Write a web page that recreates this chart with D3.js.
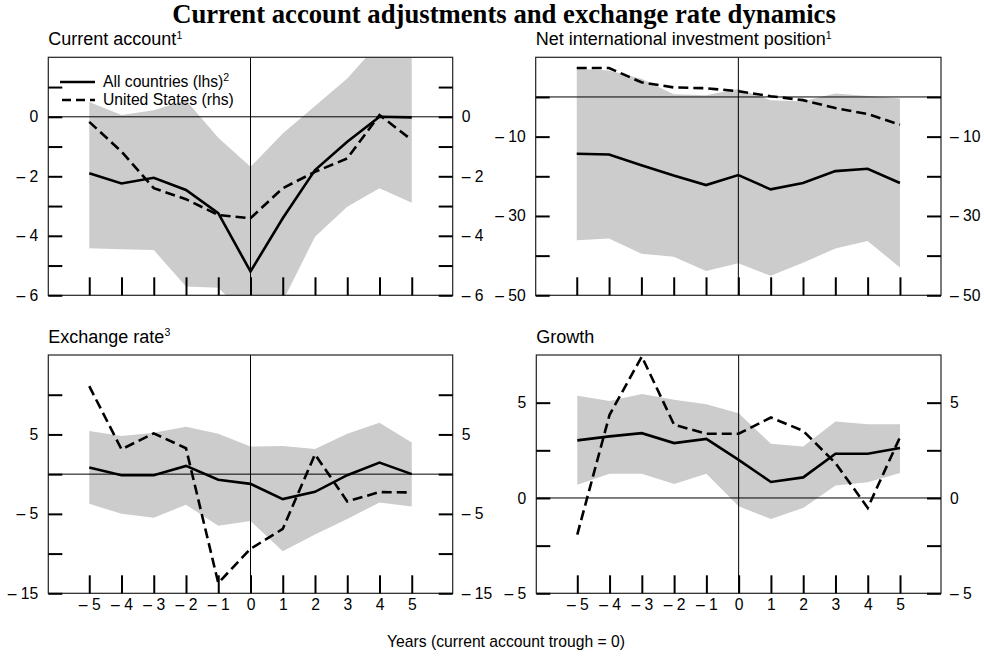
<!DOCTYPE html>
<html>
<head>
<meta charset="utf-8">
<script src="https://cdn.jsdelivr.net/npm/d3@7"></script>
<style>
  html, body { margin: 0; padding: 0; background: #fff; }
  svg { display: block; font-family: "Liberation Sans", Arial, sans-serif; }
</style>
</head>
<body>
<svg id="chart" width="984" height="657"></svg>
<script>
// Years relative to the current account trough
const years = [-5, -4, -3, -2, -1, 0, 1, 2, 3, 4, 5];

// Current account (% of GDP)
const caLow  = [-4.42, -4.45, -4.48, -5.7, -5.75, -6.8, -6.2, -4.03, -3.02, -2.4, -2.89];
const caHigh = [0.5, 0.06, 0.22, 0.56, -0.7, -1.68, -0.56, 0.36, 1.29, 2.5, 2.5];
const caAll  = [-1.9, -2.24, -2.05, -2.46, -3.24, -5.2, -3.41, -1.79, -0.84, 0.0, -0.02];
const caUS   = [-0.17, -1.17, -2.4, -2.77, -3.3, -3.41, -2.4, -1.85, -1.4, 0.06, -0.78];

// Net international investment position (% of GDP)
const niipLow  = [-36.1, -35.7, -39.5, -40.3, -43.9, -41.9, -45.1, -41.8, -38.2, -36.3, -43.0];
const niipHigh = [7.1, 6.7, 4.6, 0.7, 0.45, 2.0, -0.8, -1.05, 0.85, 0.27, -0.4];
const niipAll  = [-14.3, -14.5, -17.2, -19.8, -22.2, -19.7, -23.3, -21.7, -18.7, -18.1, -21.7];
const niipUS   = [7.3, 7.3, 3.7, 2.4, 2.2, 1.45, 0.2, -0.8, -2.8, -4.3, -7.0];

// Exchange rate (% change)
const fxLow  = [-3.73, -5.0, -5.5, -3.85, -6.5, -5.9, -9.7, -7.6, -5.65, -3.56, -4.06];
const fxHigh = [5.43, 4.8, 5.2, 5.97, 5.1, 3.47, 3.55, 3.17, 5.1, 6.48, 4.0];
const fxAll  = [0.83, -0.13, -0.13, 1.04, -0.71, -1.22, -3.14, -2.22, -0.13, 1.46, 0.0];
const fxUS   = [11.08, 3.13, 5.14, 3.26, -13.7, -9.4, -6.9, 2.5, -3.43, -2.26, -2.3];

// Growth (%)
const grLow  = [0.7, 1.27, 1.27, 0.73, 1.27, -0.44, -1.1, -0.52, 0.66, 0.82, 1.31];
const grHigh = [5.36, 5.09, 5.46, 5.15, 4.92, 4.45, 2.84, 2.7, 4.01, 3.87, 3.87];
const grAll  = [3.02, 3.23, 3.4, 2.88, 3.1, 2.0, 0.84, 1.08, 2.32, 2.32, 2.62];
const grUS   = [-1.92, 4.36, 7.42, 3.84, 3.37, 3.37, 4.22, 3.52, 1.83, -0.52, 3.19];

// Axis ticks: every tick drawn, only some labelled
const caTicks = [-6, -5, -4, -3, -2, -1, 0, 1];
const caLabels = [-6, -4, -2, 0];
const niipTicks = [-50, -40, -30, -20, -10, 0];
const niipLabels = [-50, -30, -10];
const fxTicks = [-15, -10, -5, 0, 5, 10];
const fxLabels = [-15, -5, 5];
const grTicks = [-5, -2.5, 0, 2.5, 5];
const grLabels = [-5, 0, 5];

const titleText = "Current account adjustments and exchange rate dynamics";
const footText = "Years (current account trough = 0)";
const legendAll = "All countries (lhs)";
const legendUS = "United States (rhs)";

const panels = [
  { title: "Current account", sup: "1", low: caLow, high: caHigh, all: caAll, us: caUS,
    domain: [-6, 2], ticks: caTicks, labels: caLabels,
    box: { x0: 48.3, x1: 452.7, y0: 57.3, y1: 295.3 }, xLabels: false, legend: true },
  { title: "Net international investment position", sup: "1", low: niipLow, high: niipHigh, all: niipAll, us: niipUS,
    domain: [-50, 10], ticks: niipTicks, labels: niipLabels,
    box: { x0: 535.7, x1: 941, y0: 57.3, y1: 295.3 }, xLabels: false },
  { title: "Exchange rate", sup: "3", low: fxLow, high: fxHigh, all: fxAll, us: fxUS,
    domain: [-15, 15], ticks: fxTicks, labels: fxLabels,
    box: { x0: 48.3, x1: 452.7, y0: 355, y1: 593.3 }, xLabels: true },
  { title: "Growth", sup: "", low: grLow, high: grHigh, all: grAll, us: grUS,
    domain: [-5, 7.5], ticks: grTicks, labels: grLabels,
    box: { x0: 536.3, x1: 941, y0: 355, y1: 593.3 }, xLabels: true }
];

const svg = d3.select("#chart");

const fmt = d => d < 0 ? "\u2013 " + Math.abs(d) : String(d);
const labelSize = "15.7px";

svg.append("text")
  .attr("x", 504).attr("y", 23)
  .attr("text-anchor", "middle")
  .style("font-family", "'Liberation Serif', 'Times New Roman', serif")
  .style("font-weight", "bold")
  .style("font-size", "26.7px")
  .text(titleText);

svg.append("text")
  .attr("x", 506).attr("y", 647)
  .attr("text-anchor", "middle")
  .style("font-size", labelSize)
  .text(footText);

panels.forEach((p, i) => {
  const b = p.box;
  const x = d3.scaleLinear().domain([-6.27, 6.27]).range([b.x0, b.x1]);
  const y = d3.scaleLinear().domain(p.domain).range([b.y1, b.y0]);
  const g = svg.append("g");

  const clipId = "clip" + i;
  g.append("clipPath").attr("id", clipId)
    .append("rect").attr("x", b.x0).attr("y", b.y0)
    .attr("width", b.x1 - b.x0).attr("height", b.y1 - b.y0);

  const plot = g.append("g").attr("clip-path", `url(#${clipId})`);

  // Range band
  const area = d3.area()
    .x((d, k) => x(years[k]))
    .y0((d, k) => y(p.low[k]))
    .y1((d, k) => y(p.high[k]));
  plot.append("path").datum(p.low).attr("d", area).attr("fill", "#cccccc");

  // Reference lines at zero
  plot.append("line")
    .attr("x1", b.x0).attr("x2", b.x1)
    .attr("y1", y(0)).attr("y2", y(0))
    .attr("stroke", "#000").attr("stroke-width", 1);
  plot.append("line")
    .attr("x1", x(0)).attr("x2", x(0))
    .attr("y1", b.y0).attr("y2", b.y1)
    .attr("stroke", "#000").attr("stroke-width", 1);

  const line = d3.line().x((d, k) => x(years[k])).y(d => y(d));
  plot.append("path").datum(p.all).attr("d", line)
    .attr("fill", "none").attr("stroke", "#000").attr("stroke-width", 2.6)
    .attr("stroke-linejoin", "miter");
  plot.append("path").datum(p.us).attr("d", line)
    .attr("fill", "none").attr("stroke", "#000").attr("stroke-width", 2.6)
    .attr("stroke-dasharray", "10,5");

  // Frame
  g.append("rect")
    .attr("x", b.x0).attr("y", b.y0)
    .attr("width", b.x1 - b.x0).attr("height", b.y1 - b.y0)
    .attr("fill", "none").attr("stroke", "#222").attr("stroke-width", 1.2);

  const tf = d => p.labels.includes(d) ? fmt(d) : "";

  const left = g.append("g").attr("transform", `translate(${b.x0},0)`)
    .call(d3.axisLeft(y).tickValues(p.ticks).tickFormat(tf)
      .tickSizeInner(-14).tickSizeOuter(0).tickPadding(10));
  const right = g.append("g").attr("transform", `translate(${b.x1},0)`)
    .call(d3.axisRight(y).tickValues(p.ticks).tickFormat(tf)
      .tickSizeInner(-14).tickSizeOuter(0).tickPadding(9));
  const bottom = g.append("g").attr("transform", `translate(0,${b.y1})`)
    .call(d3.axisBottom(x).tickValues(years)
      .tickFormat(d => p.xLabels ? fmt(d) : "")
      .tickSizeInner(-18).tickSizeOuter(0).tickPadding(6));

  [left, right, bottom].forEach(ax => {
    ax.select(".domain").remove();
    ax.selectAll(".tick line").attr("stroke", "#000").attr("stroke-width", 2);
    ax.selectAll(".tick text")
      .style("font-family", "'Liberation Sans', Arial, sans-serif")
      .style("font-size", labelSize).attr("fill", "#000");
  });

  // Panel title with footnote marker
  const t = g.append("text").attr("x", b.x0).attr("y", b.y0 - 12.3)
    .style("font-size", "18px").text(p.title);
  if (p.sup) {
    t.append("tspan").attr("dy", -6.5).style("font-size", "10.5px").text(p.sup);
  }

  if (p.legend) {
    const lg = g.append("g");
    lg.append("line").attr("x1", 60).attr("x2", 95).attr("y1", 82).attr("y2", 82)
      .attr("stroke", "#000").attr("stroke-width", 2.6);
    lg.append("line").attr("x1", 62).attr("x2", 95).attr("y1", 100).attr("y2", 100)
      .attr("stroke", "#000").attr("stroke-width", 2.6).attr("stroke-dasharray", "9,5");
    const l1 = lg.append("text").attr("x", 103).attr("y", 87).style("font-size", labelSize).text(legendAll);
    l1.append("tspan").attr("dy", -6).style("font-size", "10.5px").text("2");
    lg.append("text").attr("x", 103).attr("y", 105).style("font-size", labelSize).text(legendUS);
  }
});
</script>
</body>
</html>
